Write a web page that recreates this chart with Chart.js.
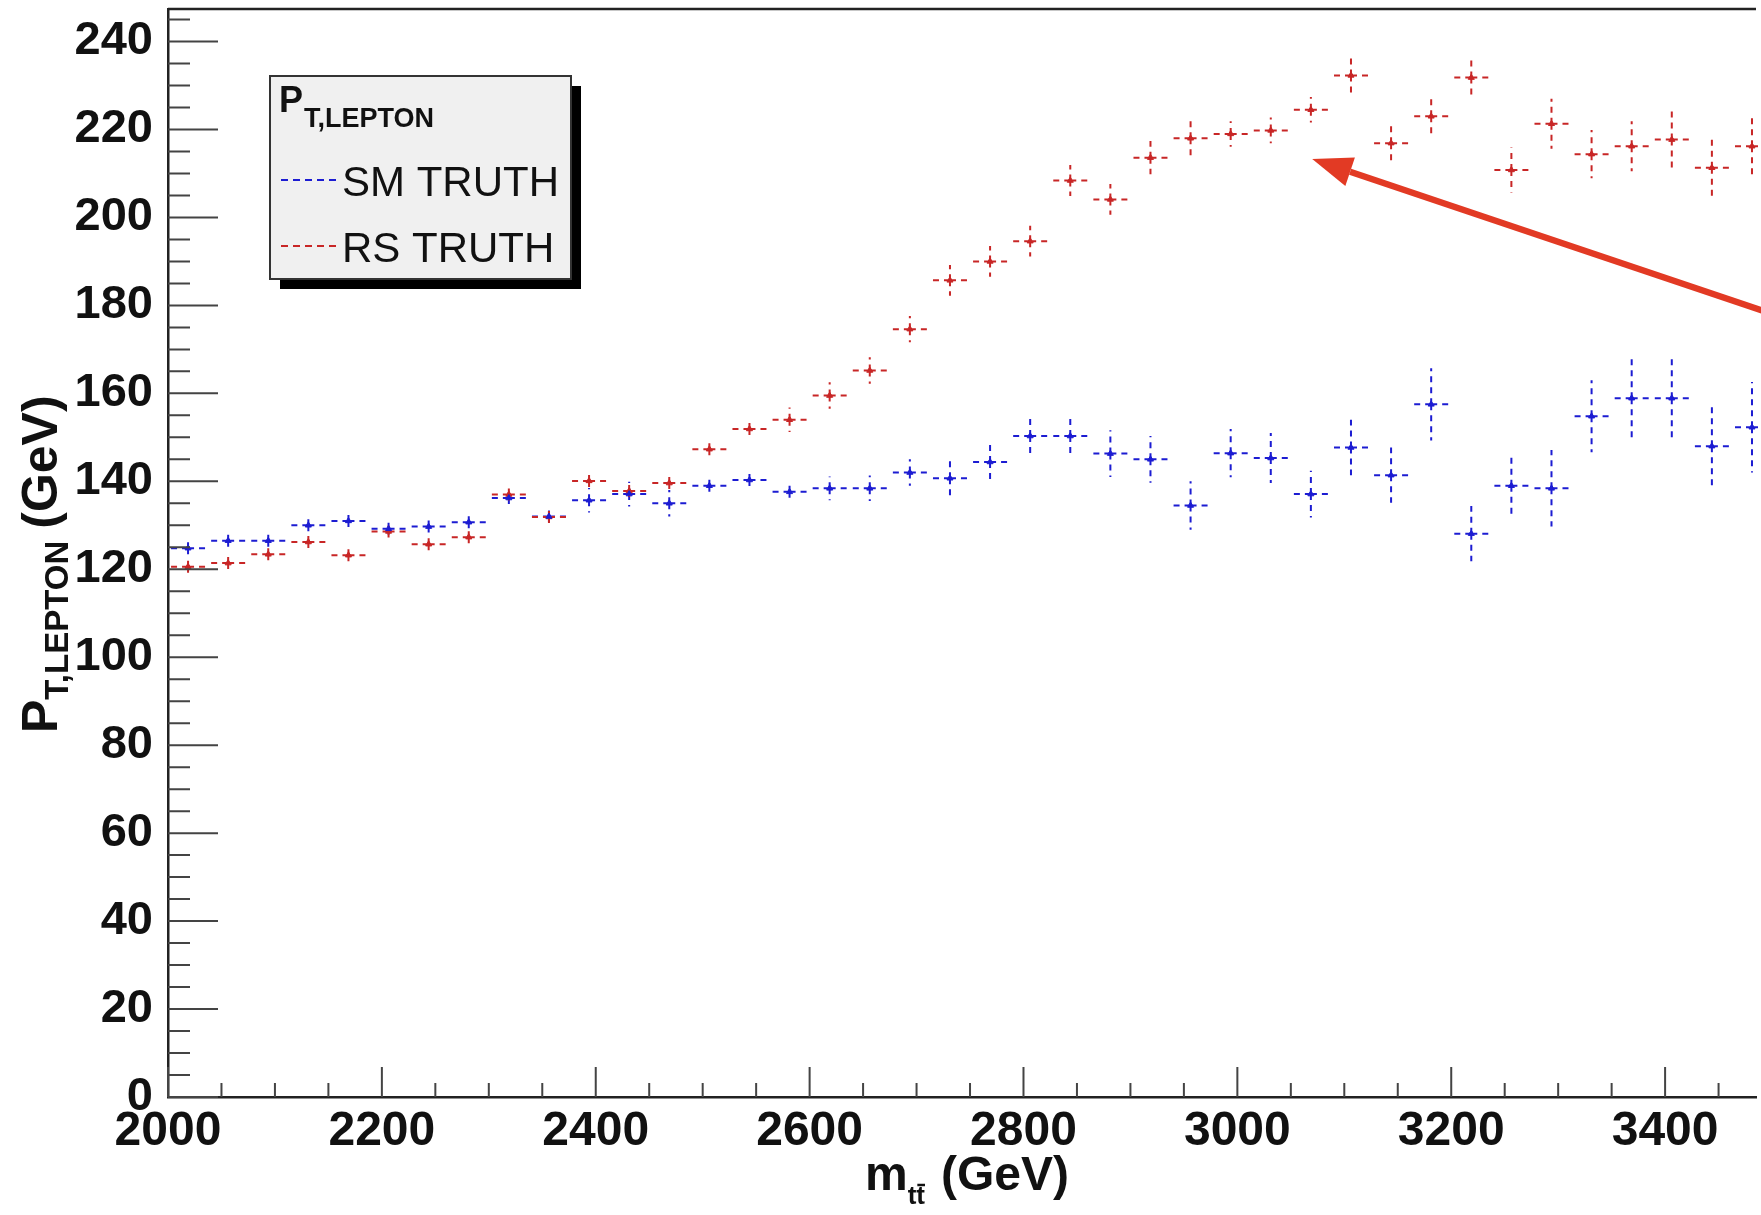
<!DOCTYPE html>
<html>
<head>
<meta charset="utf-8">
<title>PT lepton vs m_tt</title>
<script src="https://cdn.jsdelivr.net/npm/chart.js@4.4.1/dist/chart.umd.min.js"></script>
<style>
  html, body { margin: 0; padding: 0; background: #fff; }
  canvas { display: block; }
</style>
</head>
<body>
<canvas id="ptChart" width="1761" height="1215"></canvas>
<script>
// bins of 37.5 GeV starting at 2000 GeV (bin centres)
var binCenters = [2018.75, 2056.25, 2093.75, 2131.25, 2168.75, 2206.25, 2243.75, 2281.25,
    2318.75, 2356.25, 2393.75, 2431.25, 2468.75, 2506.25, 2543.75, 2581.25, 2618.75, 2656.25,
    2693.75, 2731.25, 2768.75, 2806.25, 2843.75, 2881.25, 2918.75, 2956.25, 2993.75, 3031.25,
    3068.75, 3106.25, 3143.75, 3181.25, 3218.75, 3256.25, 3293.75, 3331.25, 3368.75, 3406.25,
    3443.75, 3481.25];
var binHalfWidth = 18.75;

var smTruth = [124.8, 126.5, 126.5, 130.0, 131.0, 129.2, 129.7, 130.7, 136.2, 132.0,
    135.7, 137.1, 135.0, 139.0, 140.3, 137.6, 138.4, 138.4, 142.0, 140.7,
    144.4, 150.3, 150.3, 146.3, 145.0, 134.5, 146.4, 145.3, 137.1, 147.7,
    141.4, 157.5, 128.1, 139.0, 138.4, 154.8, 158.9, 158.9, 148.0, 152.3];
var smErr = [1.8, 1.8, 2.0, 2.0, 2.0, 2.0, 2.2, 2.2, 2.5, 2.5,
    2.8, 2.8, 3.0, 2.3, 2.5, 2.5, 2.7, 2.9, 3.0, 4.8,
    4.8, 4.8, 4.6, 5.3, 5.3, 5.5, 5.5, 5.7, 5.3, 6.3,
    6.3, 8.2, 6.3, 7.0, 8.7, 8.2, 9.9, 9.5, 9.1, 10.3];

var rsTruth = [120.6, 121.4, 123.4, 126.2, 123.2, 128.6, 125.7, 127.3, 137.0, 131.9,
    140.1, 137.8, 139.6, 147.3, 151.9, 154.0, 159.5, 165.2, 174.6, 185.7,
    190.0, 194.6, 208.4, 204.1, 213.6, 218.0, 219.0, 219.8, 224.5, 232.3,
    216.9, 223.0, 231.8, 210.8, 221.3, 214.4, 216.2, 217.7, 211.3, 216.2];
var rsErr = [1.5, 1.5, 1.5, 1.5, 1.5, 1.5, 1.5, 1.5, 2.0, 2.0,
    2.0, 2.0, 2.0, 2.5, 2.5, 2.8, 3.0, 3.0, 3.0, 3.5,
    3.5, 3.5, 3.5, 3.5, 3.8, 4.0, 2.9, 2.9, 2.9, 4.2,
    4.6, 4.8, 4.8, 5.1, 5.7, 5.5, 5.7, 6.5, 6.7, 6.8];

var xTickValues = [2000, 2200, 2400, 2600, 2800, 3000, 3200, 3400];
var yTickValues = [0, 20, 40, 60, 80, 100, 120, 140, 160, 180, 200, 220, 240];

// annotation arrow, in data units (tail runs off the right edge)
var arrowFrom = [3600, 169.9];
var arrowTo = [3070, 213.3];

var legendTitle = 'P';
var legendTitleSub = 'T,LEPTON';
var seriesLabels = ['SM TRUTH', 'RS TRUTH'];
var seriesColors = ['rgb(28,28,210)', 'rgb(200,38,38)'];

var FONT = "'Liberation Sans', Arial, Helvetica, sans-serif";

function toPoints(xs, ys) {
    return xs.map(function(x, i) { return { x: x, y: ys[i] }; });
}

var errorsByDataset = [smErr, rsErr];

// dashed error bars, drawn before the markers
var errorBarPlugin = {
    id: 'errorBars',
    beforeDatasetsDraw: function(chart) {
        var ctx = chart.ctx;
        var xs = chart.scales.x, ys = chart.scales.y;
        ctx.save();
        ctx.lineWidth = 2;
        ctx.setLineDash([6, 5]);
        chart.data.datasets.forEach(function(ds, di) {
            ctx.strokeStyle = ds.borderColor;
            ds.data.forEach(function(p, i) {
                var e = errorsByDataset[di][i];
                var cx = xs.getPixelForValue(p.x), cy = ys.getPixelForValue(p.y);
                var x0 = xs.getPixelForValue(p.x - binHalfWidth);
                var x1 = xs.getPixelForValue(p.x + binHalfWidth);
                var y0 = ys.getPixelForValue(p.y - e);
                var y1 = ys.getPixelForValue(p.y + e);
                ctx.beginPath();
                ctx.moveTo(cx, cy); ctx.lineTo(x0, cy);
                ctx.moveTo(cx, cy); ctx.lineTo(x1, cy);
                ctx.moveTo(cx, cy); ctx.lineTo(cx, y0);
                ctx.moveTo(cx, cy); ctx.lineTo(cx, y1);
                ctx.stroke();
            });
        });
        ctx.restore();
    }
};

// ROOT-style frame: inward ticks, top frame line, axis titles, legend box, arrow
var framePlugin = {
    id: 'rootFrame',
    afterDraw: function(chart) {
        var ctx = chart.ctx;
        var xs = chart.scales.x, ys = chart.scales.y;
        var area = chart.chartArea;
        ctx.save();

        // top frame line
        ctx.strokeStyle = '#222';
        ctx.lineWidth = 2.5;
        ctx.beginPath();
        ctx.moveTo(area.left, area.top);
        ctx.lineTo(area.right, area.top);
        ctx.stroke();

        // inward ticks
        ctx.strokeStyle = '#444';
        ctx.lineWidth = 2;
        ctx.beginPath();
        for (var v = 0; v <= ys.max; v += 5) {
            var py = ys.getPixelForValue(v);
            var len = (v % 20 === 0) ? 50 : 22;
            ctx.moveTo(area.left, py);
            ctx.lineTo(area.left + len, py);
        }
        for (var g = 2000; g <= xs.max; g += 50) {
            var px = xs.getPixelForValue(g);
            var l2 = (g % 200 === 0) ? 30 : 14;
            ctx.moveTo(px, area.bottom);
            ctx.lineTo(px, area.bottom - l2);
        }
        ctx.stroke();

        // arrow
        var ax0 = xs.getPixelForValue(arrowFrom[0]), ay0 = ys.getPixelForValue(arrowFrom[1]);
        var ax1 = xs.getPixelForValue(arrowTo[0]), ay1 = ys.getPixelForValue(arrowTo[1]);
        var ang = Math.atan2(ay1 - ay0, ax1 - ax0);
        var headLen = 40, headW = 15;
        var bx = ax1 - headLen * Math.cos(ang), by = ay1 - headLen * Math.sin(ang);
        ctx.strokeStyle = 'rgb(226,58,36)';
        ctx.fillStyle = 'rgb(226,58,36)';
        ctx.lineWidth = 6.5;
        ctx.beginPath();
        ctx.moveTo(ax0, ay0);
        ctx.lineTo(bx, by);
        ctx.stroke();
        ctx.beginPath();
        ctx.moveTo(ax1, ay1);
        ctx.lineTo(bx + headW * Math.sin(ang), by - headW * Math.cos(ang));
        ctx.lineTo(bx - headW * Math.sin(ang), by + headW * Math.cos(ang));
        ctx.closePath();
        ctx.fill();

        // legend box with shadow
        var lx = 270, ly = 76, lw = 301, lh = 203;
        ctx.fillStyle = '#000';
        ctx.fillRect(lx + 10, ly + 10, lw, lh);
        ctx.fillStyle = '#f0f0f0';
        ctx.fillRect(lx, ly, lw, lh);
        ctx.strokeStyle = '#333';
        ctx.lineWidth = 2;
        ctx.strokeRect(lx, ly, lw, lh);

        ctx.fillStyle = '#111';
        ctx.textAlign = 'left';
        ctx.textBaseline = 'alphabetic';
        ctx.font = 'bold 36px ' + FONT;
        ctx.fillText(legendTitle, lx + 9, ly + 36);
        var pw = ctx.measureText(legendTitle).width;
        ctx.font = 'bold 27px ' + FONT;
        ctx.fillText(legendTitleSub, lx + 10 + pw, ly + 51);

        ctx.font = '42px ' + FONT;
        seriesLabels.forEach(function(lab, i) {
            var yy = ly + 104 + i * 66;
            ctx.strokeStyle = seriesColors[i];
            ctx.lineWidth = 2;
            ctx.setLineDash([7, 5]);
            ctx.beginPath();
            ctx.moveTo(lx + 11, yy);
            ctx.lineTo(lx + 68, yy);
            ctx.stroke();
            ctx.setLineDash([]);
            ctx.fillStyle = '#111';
            ctx.fillText(lab, lx + 72, yy + 16);
        });

        // x axis title: m_{t tbar} (GeV)
        ctx.fillStyle = '#111';
        ctx.font = 'bold 48px ' + FONT;
        var tx = 865, tb = 1190;
        ctx.fillText('m', tx, tb);
        tx += ctx.measureText('m').width;
        ctx.font = 'bold 26px ' + FONT;
        ctx.fillText('tt', tx, tb + 14);
        var tw = ctx.measureText('t').width;
        ctx.strokeStyle = '#111';
        ctx.lineWidth = 2.5;
        ctx.beginPath();
        ctx.moveTo(tx + tw + 1, tb - 5);
        ctx.lineTo(tx + 2 * tw, tb - 5);
        ctx.stroke();
        ctx.font = 'bold 48px ' + FONT;
        ctx.fillText('(GeV)', tx + 2 * tw + 16, tb);

        // y axis title: P_{T,LEPTON} (GeV), rotated
        ctx.translate(57, 733);
        ctx.rotate(-Math.PI / 2);
        ctx.font = 'bold 50px ' + FONT;
        ctx.fillText('P', 0, 0);
        var off = ctx.measureText('P').width;
        ctx.font = 'bold 33px ' + FONT;
        ctx.fillText('T,LEPTON', off, 11);
        off += ctx.measureText('T,LEPTON').width + 12;
        ctx.font = 'bold 50px ' + FONT;
        ctx.fillText('(GeV)', off, 0);

        ctx.restore();
    }
};

function noEdgePadding(scale) {
    scale.paddingTop = 0;
    scale.paddingBottom = 0;
    scale.paddingLeft = 0;
    scale.paddingRight = 0;
}

function plainLabel(value) {
    return String(value);
}

var ctx = document.getElementById('ptChart').getContext('2d');
var chart = new Chart(ctx, {
    type: 'scatter',
    data: {
        datasets: [{
            label: seriesLabels[0],
            data: toPoints(binCenters, smTruth),
            borderColor: seriesColors[0],
            backgroundColor: seriesColors[0],
            pointStyle: 'triangle',
            pointRadius: 3.5,
            borderWidth: 1
        }, {
            label: seriesLabels[1],
            data: toPoints(binCenters, rsTruth),
            borderColor: seriesColors[1],
            backgroundColor: seriesColors[1],
            pointStyle: 'triangle',
            pointRadius: 3.5,
            borderWidth: 1
        }]
    },
    options: {
        responsive: false,
        animation: false,
        devicePixelRatio: 1,
        layout: { padding: { top: 9, right: 0, bottom: 0, left: 0 } },
        plugins: {
            legend: { display: false },
            tooltip: { enabled: false }
        },
        scales: {
            x: {
                type: 'linear',
                min: 2000,
                max: 3485,
                grid: { display: false, drawTicks: false },
                border: { display: true, color: '#222', width: 2.5 },
                afterBuildTicks: function(scale) {
                    scale.ticks = xTickValues.map(function(v) { return { value: v }; });
                },
                afterFit: function(scale) {
                    scale.height = 118;
                    noEdgePadding(scale);
                },
                ticks: {
                    padding: 6,
                    maxRotation: 0,
                    autoSkip: false,
                    color: '#111',
                    callback: plainLabel,
                    font: { family: FONT, size: 48, weight: 'bold' }
                }
            },
            y: {
                type: 'linear',
                min: 0,
                max: 247.4,
                grid: { display: false, drawTicks: false },
                border: { display: true, color: '#222', width: 2.5 },
                afterBuildTicks: function(scale) {
                    scale.ticks = yTickValues.map(function(v) { return { value: v }; });
                },
                afterFit: function(scale) {
                    scale.width = 168;
                    noEdgePadding(scale);
                },
                ticks: {
                    padding: 15,
                    autoSkip: false,
                    color: '#111',
                    callback: plainLabel,
                    font: { family: FONT, size: 47, weight: 'bold' }
                }
            }
        }
    },
    plugins: [errorBarPlugin, framePlugin]
});
</script>
</body>
</html>
